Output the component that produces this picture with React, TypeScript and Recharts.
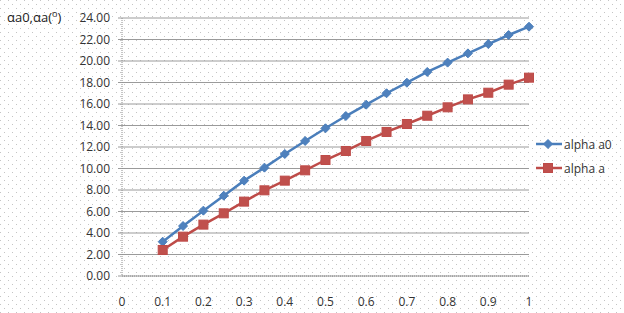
import React from "react";
import { LineChart, Line, XAxis, YAxis, CartesianGrid, Legend } from "recharts";

const xValues = [0.1, 0.15, 0.2, 0.25, 0.3, 0.35, 0.4, 0.45, 0.5, 0.55, 0.6, 0.65, 0.7, 0.75, 0.8, 0.85, 0.9, 0.95, 1.0];
const alphaA0 = [3.19, 4.65, 6.08, 7.47, 8.87, 10.08, 11.35, 12.56, 13.74, 14.88, 15.94, 17.0, 17.98, 18.98, 19.85, 20.71, 21.58, 22.42, 23.19];
const alphaA = [2.42, 3.66, 4.78, 5.83, 6.92, 7.97, 8.87, 9.83, 10.79, 11.63, 12.56, 13.4, 14.14, 14.91, 15.69, 16.43, 17.05, 17.8, 18.45];
const xTicks = [0, 0.1, 0.2, 0.3, 0.4, 0.5, 0.6, 0.7, 0.8, 0.9, 1];
const yTicks = [0, 2, 4, 6, 8, 10, 12, 14, 16, 18, 20, 22, 24];
const seriesNames = ["alpha a0", "alpha a"];

const data = xValues.map((x, i) => ({ x, a0: alphaA0[i], a: alphaA[i] }));

const BLUE = "#4a7ebb";
const BLUE_FILL = "#4f81bd";
const RED = "#be4b48";
const RED_FILL = "#c0504d";
const FONT = "'Open Sans', sans-serif";

const dotBg =
  "url(\"data:image/svg+xml;utf8,<svg xmlns='http://www.w3.org/2000/svg' width='8' height='8'><rect x='0' y='0' width='1' height='1' fill='%23c4c4c4'/><rect x='4' y='4' width='1' height='1' fill='%23c4c4c4'/></svg>\")";

const Diamond = (props: any) => {
  const { cx, cy, index } = props;
  if (cx == null || cy == null) return <g key={`d-${index}`} />;
  const r = 4.5;
  return (
    <path
      key={`d-${index}`}
      d={`M${cx},${cy - r} L${cx + r},${cy} L${cx},${cy + r} L${cx - r},${cy} Z`}
      fill={BLUE_FILL}
      stroke={BLUE}
      strokeWidth={1}
    />
  );
};

const Square = (props: any) => {
  const { cx, cy, index } = props;
  if (cx == null || cy == null) return <g key={`s-${index}`} />;
  const h = 4.5;
  return (
    <rect
      key={`s-${index}`}
      x={cx - h}
      y={cy - h}
      width={2 * h}
      height={2 * h}
      fill={RED_FILL}
      stroke={RED}
      strokeWidth={1}
    />
  );
};

const LegendContent = () => (
  <div style={{ fontFamily: FONT, fontSize: 12, color: "#333" }}>
    <div style={{ display: "flex", alignItems: "center", height: 16 }}>
      <svg width={28} height={12}>
        <line x1={1} y1={6} x2={27} y2={6} stroke={BLUE} strokeWidth={2.5} />
        <path d="M13,1.5 L17.5,6 L13,10.5 L8.5,6 Z" fill={BLUE_FILL} stroke={BLUE} />
      </svg>
      <span style={{ marginLeft: 1 }}>{seriesNames[0]}</span>
    </div>
    <div style={{ height: 8 }} />
    <div style={{ display: "flex", alignItems: "center", height: 16 }}>
      <svg width={28} height={12}>
        <line x1={1} y1={6} x2={27} y2={6} stroke={RED} strokeWidth={2.5} />
        <rect x={8.5} y={1.5} width={9} height={9} fill={RED_FILL} stroke={RED} />
      </svg>
      <span style={{ marginLeft: 1 }}>{seriesNames[1]}</span>
    </div>
  </div>
);

export default function App() {
  return (
    <div
      style={{
        position: "absolute",
        left: 0,
        top: 0,
        width: 624,
        height: 313,
        backgroundColor: "#ffffff",
        backgroundImage: dotBg,
        backgroundSize: "8px 8px",
      }}
    >
      <LineChart
        width={624}
        height={313}
        data={data}
        margin={{ top: 18, right: 95, bottom: 7, left: 0 }}
      >
        <CartesianGrid horizontal={true} vertical={false} stroke="#9a9a9a" strokeWidth={1} />
        <XAxis
          type="number"
          dataKey="x"
          domain={[0, 1]}
          ticks={xTicks}
          height={30}
          tickFormatter={(v: number) => String(v)}
          axisLine={{ stroke: "#8c8c8c", strokeDasharray: "1 1" }}
          tickLine={false}
          tickMargin={15}
          tick={{ fontFamily: FONT, fontSize: 12, fill: "#333" }}
          interval={0}
        />
        <YAxis
          type="number"
          domain={[0, 24]}
          ticks={yTicks}
          width={122}
          tickFormatter={(v: number) => v.toFixed(2)}
          axisLine={{ stroke: "#8c8c8c", strokeDasharray: "1 1" }}
          tickLine={{ stroke: "#9a9a9a" }}
          tickSize={4}
          tickMargin={8}
          tick={{ fontFamily: FONT, fontSize: 12, fill: "#333" }}
          interval={0}
        />
        <Legend
          layout="vertical"
          align="center"
          verticalAlign="middle"
          content={<LegendContent />}
          wrapperStyle={{ left: 535, top: 136, width: 90 }}
        />
        <Line
          type="linear"
          dataKey="a0"
          name={seriesNames[0]}
          stroke={BLUE}
          strokeWidth={2.5}
          dot={Diamond}
          activeDot={false}
          isAnimationActive={false}
        />
        <Line
          type="linear"
          dataKey="a"
          name={seriesNames[1]}
          stroke={RED}
          strokeWidth={2.5}
          dot={Square}
          activeDot={false}
          isAnimationActive={false}
        />
        <text x={7} y={22} fontFamily={FONT} fontSize={13} fill="#222">
          αa0,αa(
          <tspan fontSize={9} dy={-5}>o</tspan>
          <tspan dy={5}>)</tspan>
        </text>
      </LineChart>
    </div>
  );
}
